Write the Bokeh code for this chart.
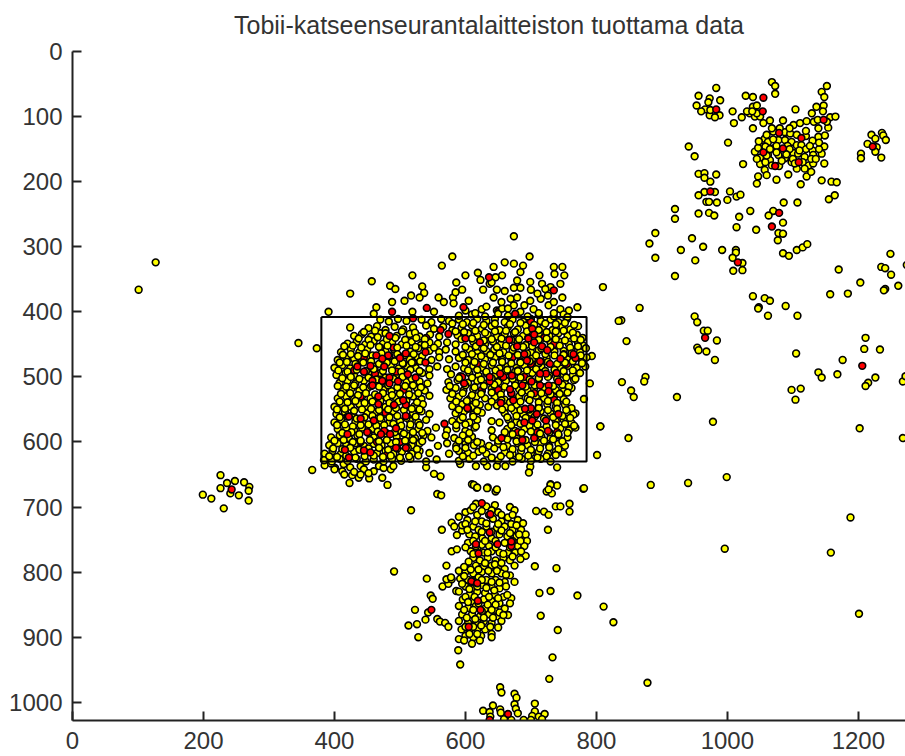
from bokeh.plotting import figure
from bokeh.models import Range1d, FixedTicker
from bokeh.embed import file_html
from bokeh.resources import INLINE

title_text = "Tobii-katseenseurantalaitteiston tuottama data"
x_ticks = [0, 200, 400, 600, 800, 1000, 1200]
y_ticks = [0, 100, 200, 300, 400, 500, 600, 700, 800, 900, 1000]
rect_x = [380, 785, 785, 380, 380]
rect_y = [408, 408, 630, 630, 408]

upper_right = [(983,56),(956,68),(953,83),(973,72),(971,78),(989,75),(966,89),(973,98),(988,98),(981,101),
(1028,68),(1039,70),(1039,85),(1045,83),(1034,95),(1022,101),(1010,110),(1008,92),(1068,47),(1073,53),(1073,65),
(1152,53),(1144,62),(1148,70),(1136,85),(1147,83),(1129,95),(1157,101),(1165,100),(1154,117),(1139,118),(1139,131),(1149,129),(1130,137),(1148,146),(1144,157),(1130,152),(1104,89),
(1065,106),(1055,110),(1085,106),(1039,118),(1070,123),(1088,124),(1096,126),(1106,128),(1101,113),(1111,110),(1121,107),(1057,134),(1062,139),(1052,146),(1058,146),(1070,149),(1078,136),(1088,136),(1098,139),(1106,144),(1113,144),(1042,154),(1050,163),(1062,159),(1078,159),(1088,164),(1101,156),(1108,157),(1118,162),(1131,159),(1050,173),(1065,167),(1079,176),(1124,175),(1131,172),(1106,180),(1093,189),(1121,192),(1057,182),(1047,192),(1045,203),(1075,197),(1112,204),(1024,173),(1148,172),
(1070,135),(1075,145),(1092,145),(1065,150),(1095,150),(1060,128),(1047,148),(1083,168),(1098,170),(1115,170),(1128,165),(1068,175),(1058,170),(1140,150),(1120,150),(1100,165),
(1048,138),(1068,118),(1095,118),(1080,118),(1120,130),(1126,145),(1110,152),(1075,155),(1090,158),(1060,160),(1045,165),(1103,172),(1118,180),(1060,190),(1128,185),(1135,165),(1120,122),(1132,108),(1140,140),(1138,105),(1146,92),(1152,108),(1042,100),(1050,100),(1045,95),(1030,92),(1038,92),(974,90),(960,92),
(1144,198),(1159,200),(1167,201),(1155,227),(1164,221),
(1220,128),(1236,125),(1238,129),(1242,136),(1214,142),(1226,134),(1228,147),(1226,154),(1204,157),(1204,164),(1235,163),
(941,146),(950,161),(1001,140),(956,188),(965,187),(983,189),(965,194),(974,200),(965,216),(981,216),(956,221),(968,231),(972,231),(984,232),(1004,215),(1014,223),(1020,220),(1000,228),(920,242),(920,257),(956,249),(972,248),(980,252),(1018,254),(1035,245),(1014,270),(1044,274),
(1086,232),(1107,232),(1070,245),(1063,252),(1085,263),(1078,279),(1085,280),(1077,290),(946,287),(890,279),(881,295),(929,305),(963,300),(992,305),(1013,305),(1013,309),(890,317),(951,321),(1008,317),(1023,325),(1023,336),(1009,337),(920,345),
(1085,310),(1094,314),(1106,305),(1115,301),(1122,296),(1249,311),(1235,331),(1241,333),(1250,343),(1170,335),(1203,355),(1157,373),(1184,372),(1241,365),(1261,360),(1274,328),
(1039,376),(1057,379),(1065,383),(1048,393),(1089,391),(866,394)]

lower_right = [(838,413),(846,445),(950,407),(954,416),(964,429),(970,429),(984,444),(954,455),(956,459),(968,461),(981,474),
(1047,395),(1062,406),(1107,406),(1239,367),(1105,464),(1211,440),(1209,457),(1233,458),(1176,474),(1139,493),(1144,501),(1168,496),(1226,501),(1215,509),(1211,514),(1268,507),(1272,499),
(1098,520),(1112,518),(1104,535),(839,508),(875,500),(873,507),(853,521),(857,531),(923,531),(978,569),(806,576),(849,594),(1268,594),(1202,579),(883,666),(940,663),(999,654),
(996,764),(1158,770),(1188,716),(1201,864),(811,853),(826,877),(878,970)]

far_left = [(101,366),(127,324),(345,448),(373,456),(366,643),(226,651),(236,663),(248,660),(262,662),(270,669),(269,675),(226,671),(241,679),(254,682),(199,681),(212,687),(269,690),(231,702)]

bottom_sparse = [(610,665),(617,670),(634,670),(646,676),(557,680),(563,682),(517,705),(730,665),(740,667),(724,676),(732,679),(780,672),(738,699),(745,699),(759,695),(759,707),(708,706),(720,707),(727,712),(726,735),(706,791),(739,794),(713,832),(730,829),(771,836),(715,867),(741,889),(733,931),(728,964),(491,799),(541,810),(564,735),(579,724),(583,730),(587,743),(595,736),(579,768),(587,765),(571,790),
(523,858),(543,862),(539,873),(526,880),(513,882),(547,836),(550,841),(528,900),(557,872),(561,876),(569,878),(574,884),(589,920),(592,942),(590,903),(565,822),(574,818),(571,811),(579,811),(586,829),
(653,977),(655,985),(675,987),(678,993),(675,1003),(677,1010),(680,1017),(642,1005),(627,1013),(637,1015),(653,1011),(654,1016),(638,1022),(706,1002),(706,1014),(702,1021),(712,1022),(721,1018),(717,1026),(700,1027),(689,1027),(659,1026),(670,1027)]

bottom_dense = [(616,695),(632,699),(645,697),(600,708),(608,705),(618,712),(636,712),(650,708),(668,700),(675,705),(590,715),(603,720),(625,722),(642,718),(655,722),(665,716),(680,720),(688,725),(595,728),(612,730),(620,735),(632,730),(648,732),(660,730),(672,735),(685,735),(692,742),(606,742),(615,745),(626,748),(640,748),(652,742),(664,745),(678,745),(688,752),(694,752),(604,755),(625,758),(636,760),(660,755),(680,760),(690,760),(608,768),(618,765),(628,770),(640,768),(652,770),(665,770),(676,770),(692,775),(612,778),(622,782),(634,778),(646,782),(658,778),(668,782),(684,780),(616,790),(628,792),(640,790),(650,792),(660,795),
(590,798),(600,800),(612,802),(625,800),(640,802),(655,802),(668,805),(578,808),(592,810),(604,812),(620,808),(632,812),(646,812),(660,815),(675,815),(600,822),(612,825),(625,820),(640,822),(652,825),(662,822),(590,830),(606,835),(618,830),(630,832),(645,835),(658,838),(670,840),(596,842),(610,845),(628,842),(640,845),(652,848),(668,848),(590,852),(604,855),(616,852),(630,856),(645,858),(660,856),(595,865),(610,865),(622,868),(636,865),(650,868),(665,866),(590,875),(604,878),(616,878),(628,876),(640,878),(655,875),(594,888),(606,890),(618,888),(630,888),(650,885),(600,898),(612,900),(624,898),(640,895),(640,900),(610,910),(622,905),(598,905),
(612,700),(625,706),(640,705),(655,712),(672,712),(600,726),(615,722),(632,725),(650,726),(670,726),(678,728),(603,735),(625,738),(640,738),(655,736),(668,740),(682,742),(612,752),(630,752),(646,752),(672,752),(684,752),(600,762),(616,760),(646,762),(668,762),(685,768),(612,772),(634,770),(658,772),(672,776),(605,784),(630,786),(645,788),(655,786),(675,790),(598,792),(608,796),(620,796),(635,798),(648,798),(662,804),(598,806),(612,814),(625,812),(640,815),(652,816),(595,818),(606,826),(618,822),(632,824),(644,828),(600,838),(614,838),(636,838),(650,840),(664,835),(604,846),(620,848),(634,850),(646,850),(598,858),(612,858),(625,860),(640,858),(652,862),(602,870),(615,872),(628,870),(642,870),(658,866),(600,884),(612,884),(624,882),(638,884),(606,895),(618,895)]

main_sparse = [(674,284),(580,315),(698,315),(564,329),(519,344),(600,344),(619,340),(643,331),(660,324),(674,326),(688,329),(684,339),(713,344),(735,331),(748,331),(736,342),(751,344),(457,353),(485,360),(493,365),(534,361),(586,355),(623,351),(646,347),(656,344),(679,352),(699,354),(717,357),(730,362),(745,357),(810,362),(424,372),(488,385),(517,375),(537,371),(507,383),(530,378),(559,378),(581,378),(595,366),(585,370),(627,366),(637,357),(648,366),(684,363),(674,363),(722,365),(726,375),(748,378),(669,380),(699,383),(679,378),(643,378),(464,393),(391,400),(460,403),(519,400),(552,400),(567,385),(582,387),(605,383),(625,396),(648,398),(674,390),(704,396),(727,390),(745,396),(758,398),(771,393),(834,414),
(793,468),(783,484),(790,510),(781,534),(768,556),(806,576),(801,620),(424,424),
(401,640),(414,634),(424,639),(440,637),(453,656),(427,651),(423,663),(437,655),(468,637),(473,655),(481,666),(486,642),(490,637),(540,639),(552,649),(562,653),(592,634),(616,637),(633,637),(648,637),(661,637),(699,638),(697,647),(740,639),(730,666),(613,666),(618,670),(633,671),(648,673),(781,671),(727,673),(385,636),(400,642),(412,645),(430,646),(445,642),(460,645),(475,640),(440,650),(452,648),(415,650),(395,633)]

main_rows = [(470,412),(483,415),(497,411),(510,414),(533,412),(548,416),(563,411),(575,414),(590,412),(602,416),(618,411),(632,414),(645,411),(660,416),(672,412),(688,415),(700,411),(715,414),(730,412),(742,416),(755,411),
(452,425),(465,422),(478,428),(492,423),(505,427),(520,424),(540,421),(552,426),(566,423),(580,428),(594,424),(610,421),(625,426),(640,422),(652,428),(665,423),(680,427),(692,421),(718,425),(733,428),(748,423),(760,427),(772,422),
(430,437),(442,434),(456,438),(470,433),(495,437),(515,434),(530,438),(546,435),(560,438),(588,436),(604,433),(618,437),(634,435),(648,438),(660,434),(674,433),(688,437),(712,434),(728,437),(742,433),(756,437),(770,435),(779,440),
(420,449),(434,446),(447,450),(460,445),(474,449),(488,447),(503,450),(518,446),(532,451),(545,447),(558,449),(572,447),(585,450),(612,446),(630,450),(642,446),(654,450),(680,447),(692,451),(730,448),(744,446),(758,450),(772,448),(780,452),
(410,462),(425,458),(438,462),(450,458),(478,461),(491,458),(516,461),(528,456),(545,460),(560,462),(570,458),(585,461),(606,458),(618,463),(632,460),(644,458),(658,462),(672,459),(700,462),(712,459),(736,461),(750,460),(762,458),(775,462),
(405,474),(418,470),(430,472),(442,476),(452,470),(487,475),(515,473),(527,470),(548,474),(560,470),(575,473),(590,471),(604,474),(617,470),(630,473),(645,470),(656,474),(670,472),(684,476),(702,472),(724,470),(756,473),(778,476),(785,470),
(400,486),(412,482),(424,487),(462,484),(486,483),(498,487),(510,483),(524,486),(545,488),(557,484),(572,488),(585,484),(598,487),(612,483),(626,486),(640,482),(652,487),(664,484),(678,486),(690,482),(704,486),(716,484),(745,487),(757,483),(770,486),
(403,497),(417,494),(430,498),(456,497),(470,494),(495,496),(534,494),(545,498),(578,496),(592,499),(606,494),(620,498),(632,494),(646,497),(660,493),(676,492),(688,497),(702,494),(728,498),(750,496),(764,498),(775,494),
(408,509),(420,506),(432,510),(445,506),(470,510),(510,508),(530,507),(542,510),(574,508),(588,505),(604,509),(618,506),(628,510),(650,508),(662,506),(676,509),(690,504),(712,503),(752,510),(766,505),
(413,522),(426,518),(438,521),(450,518),(475,520),(487,522),(500,519),(513,521),(526,518),(538,521),(571,520),(585,517),(597,521),(612,519),(625,522),(640,518),(655,520),(682,519),(695,521),(705,518),(738,520),(750,522),(762,517),
(405,533),(418,530),(430,534),(442,530),(455,533),(480,532),(493,531),(520,530),(533,534),(545,529),(577,533),(590,530),(606,534),(617,530),(630,533),(645,531),(660,535),(682,530),(695,533),(708,529),(720,533),(735,531),(750,534),
(400,546),(412,542),(425,546),(438,542),(450,545),(478,546),(522,545),(535,542),(580,545),(595,542),(610,546),(622,543),(635,546),(648,544),(662,546),(678,543),(712,545),(725,542),(738,546),(752,543),(762,548),
(403,557),(416,554),(428,558),(450,556),(463,554),(478,557),(490,553),(520,556),(533,553),(545,557),(585,556),(598,553),(612,558),(625,555),(660,556),(675,553),(688,557),(700,555),(715,553),(730,556),(755,554),(765,558),
(400,570),(410,566),(432,569),(445,572),(472,568),(484,570),(500,568),(515,567),(528,570),(540,566),(580,568),(592,566),(606,570),(618,566),(640,568),(652,570),(666,566),(678,569),(738,568),(750,566),(762,571),
(405,580),(418,578),(430,582),(442,578),(458,580),(500,582),(515,578),(528,580),(542,583),(555,578),(572,582),(586,579),(600,583),(614,578),(640,582),(664,580),(676,583),(690,580),(703,578),(716,582),(745,579),(758,582),(768,578),
(395,593),(408,590),(422,594),(435,590),(460,593),(495,592),(510,590),(523,594),(536,590),(548,593),(570,590),(583,594),(596,590),(610,592),(642,593),(668,590),(678,594),(716,592),(730,594),(742,590),(756,593),
(392,605),(405,602),(418,605),(432,602),(445,606),(460,603),(472,605),(486,602),(518,605),(530,602),(558,606),(572,602),(586,606),(600,603),(613,605),(624,602),(636,606),(650,603),(664,606),(680,602),(695,605),(715,603),(728,606),(742,603),(752,606),
(385,618),(397,614),(410,618),(430,615),(465,617),(478,614),(490,618),(503,615),(518,618),(530,614),(545,617),(575,618),(590,614),(604,617),(620,615),(632,618),(660,616),(672,618),(685,614),(700,617),(712,615),(726,618),(738,615),(750,618),
(384,628),(396,630),(408,626),(420,629),(434,626),(448,630),(460,627),(475,630),(488,626),(502,629),(516,626),(540,630),(556,627),(590,629),(606,626),(628,630),(650,628),(672,630),(686,626),(700,629),(715,626),(730,630)]

red_slivers = [(470,455),(490,455),(505,480),(520,478),(430,490),(462,495),(445,470),(495,492),(440,530),(478,555),(465,600),(500,600),(440,600),(480,620),(505,520),(720,440),(735,450),(750,465),(700,480),(680,490),(705,525),(690,500),(735,535),(650,520),(625,520),(710,585),(680,585),(740,585),(755,480),(618,480),(672,470),(540,440),(595,500),(520,410),(650,400),(700,415)]

main_core = [(445,431),(462,429),(478,433),(503,430),(523,432),(437,441),(452,443),(466,439),(480,442),(493,440),(508,443),(525,440),(538,442),
(415,453),(428,452),(441,455),(455,451),(468,454),(481,452),(496,455),(510,452),(524,454),(538,451),(552,455),
(413,466),(425,465),(436,468),(447,464),(458,467),(472,464),(484,468),(496,465),(507,467),(521,465),(534,468),
(408,478),(419,477),(432,480),(444,478),(456,476),(468,480),(480,478),(492,476),(504,479),(518,478),(531,476),
(406,490),(420,492),(434,489),(448,491),(460,488),(474,491),(488,490),(502,492),(516,489),(530,491),
(412,502),(425,500),(438,503),(452,501),(464,504),(478,501),(490,503),(504,500),(518,503),
(405,514),(418,515),(430,513),(444,516),(456,514),(468,515),(482,513),(496,516),(508,514),(520,513),(532,516),
(410,526),(424,525),(436,528),(448,525),(462,527),(474,525),(488,528),(500,526),(514,527),(528,525),
(408,538),(420,539),(432,537),(446,540),(458,538),(470,537),(484,540),(498,538),(510,537),(526,539),
(404,550),(416,549),(430,552),(442,550),(456,549),(468,551),(482,550),(494,548),(506,551),(518,549),(530,550),
(408,562),(420,561),(434,564),(446,562),(458,560),(470,563),(484,562),(496,560),(510,563),(524,561),
(404,574),(416,573),(428,576),(440,574),(452,573),(464,575),(476,574),(490,572),(502,575),(516,573),(530,574),
(412,586),(426,585),(438,588),(452,586),(466,584),(480,587),(492,585),(506,587),(520,585),(534,586),
(400,598),(414,597),(428,600),(440,598),(454,597),(468,599),(480,597),(494,600),(508,598),(520,597),(534,599),
(398,610),(412,611),(424,609),(438,612),(452,610),(468,609),(482,612),(496,610),(512,609),(526,611),
(392,622),(404,623),(418,621),(432,624),(446,622),(460,621),(474,623),(486,621),(500,624),(514,622),(528,621),
(590,406),(610,404),(630,407),(650,403),(665,406),(680,404),(695,407),(712,405),(735,407),(750,404),(600,398),(615,402),(632,392),(656,395),(665,395),(684,400),(712,402),(735,402),(756,408),(655,385),(690,390),(715,380),(735,385),(660,368),(710,372),(640,355),(700,366),
(580,418),(596,419),(612,417),(628,420),(645,418),(668,419),(684,417),(705,420),(722,418),(738,419),(752,417),(766,420),
(585,430),(598,431),(615,429),(630,432),(645,430),(662,429),(676,431),(694,430),(712,428),(724,431),(738,430),(750,429),(764,432),
(594,442),(610,441),(628,444),(640,442),(655,441),(670,443),(682,442),(696,440),(712,443),(724,441),(738,442),(752,444),(766,441),(776,443),
(600,454),(616,453),(628,456),(648,454),(662,452),(674,455),(688,454),(702,453),(716,456),(730,454),(744,452),(760,455),(772,453),(784,456),
(596,466),(610,465),(624,468),(638,466),(652,464),(666,467),(680,466),(694,464),(708,467),(722,465),(736,467),(750,466),(762,464),(776,467),
(600,478),(614,477),(628,480),(642,478),(656,477),(670,479),(684,478),(698,476),(712,479),(726,477),(740,480),(752,478),(764,476),(778,479),
(604,490),(618,489),(632,492),(646,490),(664,489),(680,491),(694,490),(708,488),(722,491),(736,489),(750,491),(764,490),
(590,502),(610,501),(624,504),(640,502),(656,500),(672,503),(684,501),(698,504),(712,502),(726,500),(740,503),(754,501),(768,503),
(576,514),(600,513),(614,516),(628,514),(644,512),(660,515),(676,513),(692,515),(706,513),(720,516),(734,514),(748,512),(758,515),
(580,526),(596,525),(610,528),(624,526),(640,524),(654,527),(670,526),(686,524),(700,527),(716,525),(730,527),(744,526),(756,524),
(586,538),(602,537),(616,540),(640,538),(655,536),(668,539),(684,538),(698,536),(712,539),(726,537),(740,540),(754,538),
(590,550),(604,549),(618,552),(656,550),(670,548),(684,551),(698,550),(712,548),(726,551),(740,549),(754,551),
(596,562),(612,561),(664,562),(678,560),(692,563),(706,561),(720,564),(734,562),(748,560),(760,563),
(586,574),(600,573),(616,576),(670,574),(684,572),(698,575),(710,573),(724,576),(738,574),(752,572),(766,575),
(606,586),(660,585),(672,588),(686,586),(700,584),(714,587),(728,585),(742,588),(756,586),
(590,598),(604,597),(618,600),(650,598),(664,596),(678,599),(692,597),(706,600),(720,598),(734,596),(748,599),
(586,610),(600,609),(626,612),(644,610),(658,608),(672,611),(686,609),(700,612),(714,610),(728,608),(742,611),
(596,622),(612,621),(640,624),(654,622),(668,620),(682,623),(696,621),(710,624),(724,622),(738,620)]

red_points = [(983,89),(1055,71),(1054,92),(1147,105),(1079,125),(1113,133),(1085,149),(1055,155),(1073,176),(1109,170),(1222,146),(974,215),(1079,248),(1068,269),(1016,324),(966,440),(1206,483),(243,673),
(625,694),(637,739),(616,757),(649,757),(670,760),(670,753),(620,771),(609,814),(618,817),(619,844),(623,858),(605,884),(638,711),(548,858),(637,1027),(665,1018),
(636,347),(735,367),(488,400),(541,394),(597,393),(676,403),
(484,437),(482,467),(500,471),(509,464),(464,467),(455,483),(445,492),(473,472),(476,484),(484,501),(458,506),(458,513),(473,506),(484,510),(497,507),(512,496),(524,501),(435,484),(467,530),(467,542),(491,543),(509,543),(505,536),(422,561),(440,564),(460,567),(494,579),(509,560),(476,583),(485,588),(450,585),(471,588),(416,612),(422,624),(445,613),(494,609),(509,609),(420,588),(455,616),(539,462),(562,428),(574,434),(568,572),(539,478),
(600,441),(622,447),(667,443),(679,453),(702,426),(705,435),(696,441),(705,447),(717,453),(725,459),(690,465),(714,476),(729,480),(768,471),(765,465),(745,472),(723,495),(739,494),(701,507),(687,513),(714,513),(727,513),(742,507),(727,522),(670,525),(637,507),(637,500),(598,510),(654,540),(658,500),(671,498),(668,519),(653,495),(690,570),(702,567),(723,567),(726,583),(655,594),(687,597),(705,594),(700,548),(691,549),(603,548),(673,536),(742,557),(709,557),(694,475),(714,495)]

yellow_base = upper_right + lower_right + far_left + bottom_sparse + bottom_dense + main_sparse + main_rows

p = figure(width=905, height=756, output_backend="svg", toolbar_location=None,
           x_range=Range1d(0, 1272), y_range=Range1d(1028, 0),
           min_border_left=72, min_border_right=0, min_border_top=22, min_border_bottom=36,
           title=title_text)
p.title.align = "center"
p.title.vertical_align = "top"
p.title.text_font = "Liberation Sans"
p.title.text_font_size = "25px"
p.title.text_font_style = "normal"
p.title.text_color = "#333333"
p.title.standoff = 21
p.outline_line_color = None
p.grid.visible = False
for ax, tk in ((p.xaxis, x_ticks), (p.yaxis, y_ticks)):
    ax.ticker = FixedTicker(ticks=tk)
    ax.major_tick_in = 9
    ax.major_tick_out = 0
    ax.minor_tick_line_color = None
    ax.axis_line_color = "#222222"
    ax.axis_line_width = 2
    ax.major_tick_line_color = "#222222"
    ax.major_tick_line_width = 2
    ax.major_label_text_font = "Liberation Sans"
    ax.major_label_text_font_size = "24px"
    ax.major_label_text_color = "#333333"
p.xaxis.major_label_standoff = 11
p.yaxis.major_label_standoff = 10

def dots(points, color):
    p.scatter([a for a, b in points], [b for a, b in points], size=6.8, marker="circle",
              fill_color=color, line_color="#000000", line_width=1.6)

dots(yellow_base, "#ffff00")
dots(red_slivers, "#ff0000")
dots(main_core, "#ffff00")
dots(red_points, "#ff0000")
p.line(rect_x, rect_y, line_color="#000000", line_width=2)

open("out.html", "w").write(file_html(p, INLINE))
